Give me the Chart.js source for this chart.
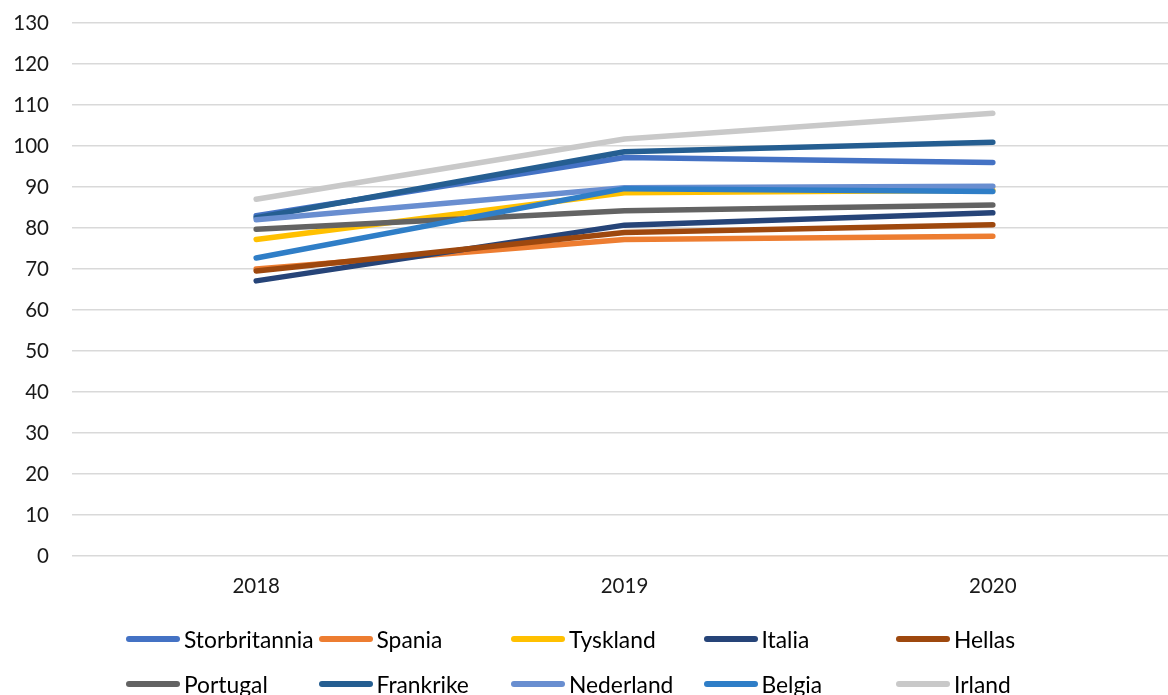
<!DOCTYPE html>
<html>
<head>
<meta charset="utf-8">
<script src="https://cdn.jsdelivr.net/npm/chart.js@4"></script>
<style>
  html, body { margin:0; padding:0; background:#fff; overflow:hidden; width:1168px; height:695px; }
  #wrap { position:absolute; left:0; top:0; width:1177px; height:695px; }
  #legend { position:absolute; left:0; top:0; width:1168px; height:695px; pointer-events:none;
            font-family: Lato, "Open Sans", sans-serif; font-size:22.8px; color:#000; }
  .item { position:absolute; display:flex; align-items:center; white-space:nowrap; }
  .swatch { width:54px; height:6px; border-radius:3px; margin-right:4px; }
</style>
</head>
<body>
<div id="wrap"><canvas id="c"></canvas></div>
<div id="legend"></div>
<script>
const years = ["2018", "2019", "2020"];
const countries = ["Storbritannia", "Spania", "Tyskland", "Italia", "Hellas",
                   "Portugal", "Frankrike", "Nederland", "Belgia", "Irland"];
const colors = ["#4472C4", "#ED7D31", "#FFC000", "#264478", "#9E480E",
                "#636363", "#255E91", "#698ED0", "#2F7EC7", "#C9C9C9"];
const storbritannia = [83.0, 97.2, 96.0];
const spania        = [70.0, 77.2, 78.0];
const tyskland      = [77.2, 88.6, 89.2];
const italia        = [67.1, 80.7, 83.7];
const hellas        = [69.5, 78.9, 80.8];
const portugal      = [79.7, 84.2, 85.6];
const frankrike     = [82.5, 98.6, 100.9];
const nederland     = [82.0, 89.8, 90.2];
const belgia        = [72.7, 89.6, 88.9];
const irland        = [87.0, 101.7, 108.0];
const yTicks = [0, 10, 20, 30, 40, 50, 60, 70, 80, 90, 100, 110, 120, 130];

const series = [storbritannia, spania, tyskland, italia, hellas,
                portugal, frankrike, nederland, belgia, irland];

const datasets = series.map((d, i) => ({
  label: countries[i],
  data: d,
  borderColor: colors[i],
  backgroundColor: colors[i],
  borderWidth: 5.5,
  borderCapStyle: 'round',
  borderJoinStyle: 'round',
  pointRadius: 0,
  tension: 0,
  fill: false,
  order: series.length - i
}));

new Chart(document.getElementById('c'), {
  type: 'line',
  data: { labels: years, datasets },
  options: {
    responsive: true,
    maintainAspectRatio: false,
    animation: false,
    layout: { padding: { top: 23, left: 0, right: 0, bottom: 0 } },
    plugins: { legend: { display: false }, tooltip: { enabled: false } },
    scales: {
      x: {
        type: 'category',
        offset: true,
        grid: { display: false },
        border: { display: false },
        ticks: { color: '#1a1a1a', font: { family: 'Lato', size: 20.5 }, padding: 10, maxRotation: 0 },
        afterFit: (s) => { s.height = 139; s.paddingLeft = 0; s.paddingRight = 0; }
      },
      y: {
        min: 0, max: 130,
        afterBuildTicks: (s) => { s.ticks = yTicks.map(v => ({ value: v })); },
        grid: { color: '#D9D9D9', lineWidth: 1.5, drawTicks: false },
        border: { display: false },
        ticks: { color: '#1a1a1a', font: { family: 'Lato', size: 20.5 }, padding: 23 },
        afterFit: (s) => { s.width = 72; s.paddingTop = 0; s.paddingBottom = 0; }
      }
    }
  }
});

// HTML legend built from the same arrays
const lg = document.getElementById('legend');
countries.forEach((name, i) => {
  const col = i % 5, row = Math.floor(i / 5);
  const it = document.createElement('div');
  it.className = 'item';
  it.style.left = (126 + col * 192.5) + 'px';
  it.style.top = (row === 0 ? 640 : 685) - 16 + 'px';
  it.style.height = '30px';
  const sw = document.createElement('div');
  sw.className = 'swatch';
  sw.style.background = colors[i];
  const tx = document.createElement('span');
  tx.textContent = name;
  it.appendChild(sw); it.appendChild(tx);
  lg.appendChild(it);
});
</script>
</body>
</html>
